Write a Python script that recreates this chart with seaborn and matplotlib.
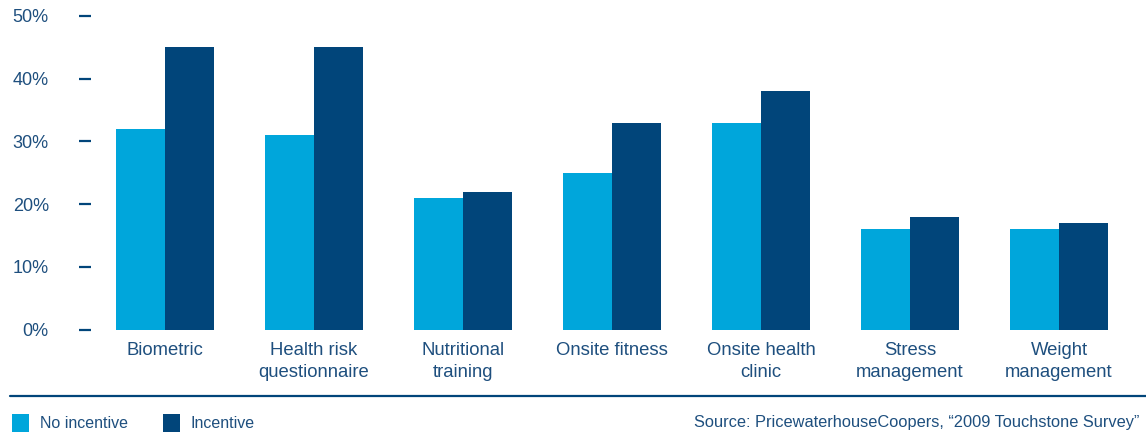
import matplotlib
matplotlib.use("Agg")
import matplotlib.pyplot as plt
from matplotlib.patches import Rectangle
from matplotlib.lines import Line2D
import pandas as pd
import seaborn as sns

# Participation in wellness programs, with and without incentives (%)
programs = ["Biometric", "Health risk\nquestionnaire", "Nutritional\ntraining",
            "Onsite fitness", "Onsite health\nclinic", "Stress\nmanagement",
            "Weight\nmanagement"]
no_incentive = [32, 31, 21, 25, 33, 16, 16]
incentive = [45, 45, 22, 33, 38, 18, 17]
series = ["No incentive", "Incentive"]
y_ticks = [0, 10, 20, 30, 40, 50]
source_note = "Source: PricewaterhouseCoopers, \u201c2009 Touchstone Survey\u201d"

LIGHT = "#00A6DB"
DARK = "#01457A"
TEXT = "#1E4F7E"

df = pd.DataFrame({
    "program": programs * 2,
    "series": [series[0]] * len(programs) + [series[1]] * len(programs),
    "value": no_incentive + incentive,
})

sns.set_style("white")
plt.rcParams["font.family"] = ["Liberation Sans", "DejaVu Sans"]

W, H = 1146, 432
fig = plt.figure(figsize=(W / 100, H / 100), dpi=100)
ax = fig.add_axes([90.5 / W, (H - 329.5) / H, 1043 / W, (329.5 - 16) / H])

sns.barplot(data=df, x="program", y="value", hue="series", order=programs,
            hue_order=series, palette=[LIGHT, DARK], width=0.66,
            saturation=1, linewidth=0, legend=False, ax=ax)

ax.set_xlim(-0.5, len(programs) - 0.5)
ax.set_ylim(0, 50)
ax.set_yticks(y_ticks)
ax.set_yticklabels([f"{t}%" for t in y_ticks])
ax.set_xlabel("")
ax.set_ylabel("")
for s in ax.spines.values():
    s.set_visible(False)

ax.tick_params(axis="y", left=True, length=9, width=1.6, color=DARK,
               pad=21, labelsize=13, labelcolor=TEXT)
ax.tick_params(axis="x", bottom=False, length=0, pad=9,
               labelsize=13.3, labelcolor=TEXT)
for lab in ax.get_xticklabels():
    lab.set_linespacing(1.35)

# rule separating the chart from the footer
fig.add_artist(Line2D([10 / W, 1.0], [(H - 395.5) / H] * 2,
                      color=DARK, linewidth=1.6, transform=fig.transFigure))

# footer legend
for x0, x_text, col, name in [(12, 40, LIGHT, series[0]),
                              (163, 190, DARK, series[1])]:
    fig.add_artist(Rectangle((x0 / W, (H - 434) / H), 17 / W, 20 / H,
                             facecolor=col, edgecolor="none",
                             transform=fig.transFigure))
    fig.text(x_text / W, (H - 423) / H, name, fontsize=11.5, color=TEXT,
             ha="left", va="center")

fig.text(1139 / W, (H - 423) / H, source_note, fontsize=11.8, color=TEXT,
         ha="right", va="center")

fig.savefig("out.png", dpi=100)
